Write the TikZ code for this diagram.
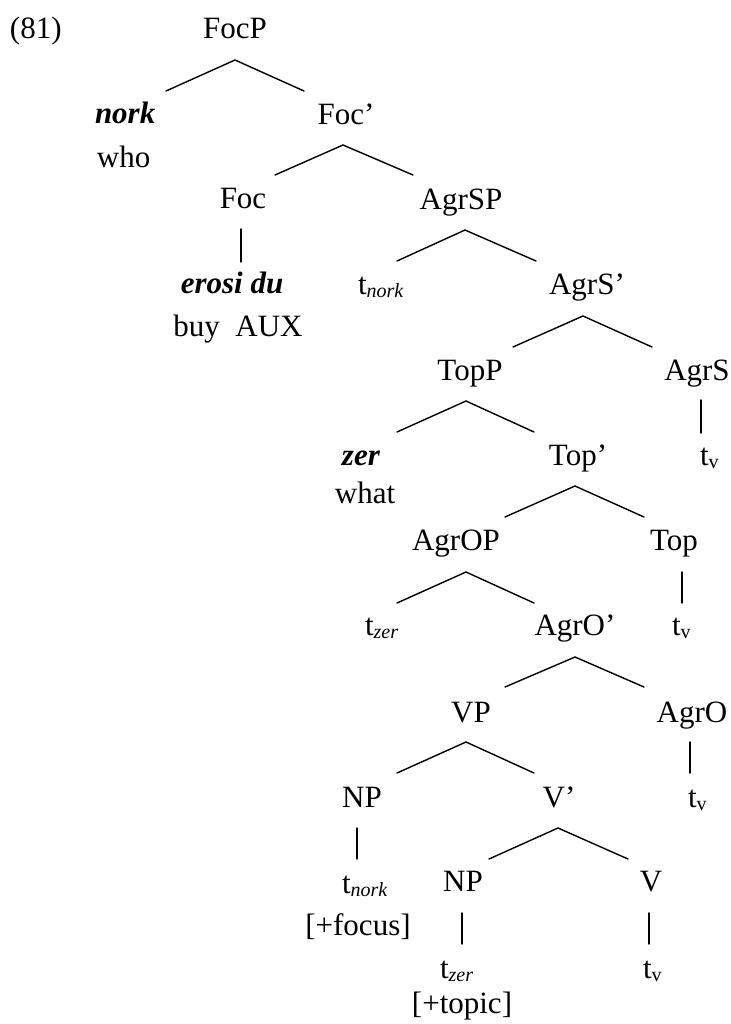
\documentclass[tikz,border=0pt]{standalone}
\usepackage{fontspec}
\setmainfont{Liberation Serif}
% trace with an italic (or upright) lowered subscript
\newcommand{\trit}[1]{t\raisebox{-1.6pt}{\fontsize{10}{12}\selectfont\itshape #1}}
\newcommand{\trup}[1]{t\raisebox{-1.6pt}{\fontsize{10}{12}\selectfont #1}}
\newcommand{\bi}[1]{\textbf{\textit{#1}}}
\begin{document}
\begin{tikzpicture}[x=0.5pt,y=-0.5pt,
  every node/.style={inner sep=0pt, outer sep=0pt, font=\fontsize{15.5}{18}\selectfont},
  lbl/.style={anchor=base},
  lblw/.style={anchor=base west},
  branch/.style={line width=0.7pt, line cap=round}]
\useasboundingbox (0,0) rectangle (731,1024);

% example number
\node[lblw] (num) at (10,38) {(81)};

% labels: (centre x, baseline y)
\node[lbl] (FocP) at (235,38) {FocP};
\node[lblw] (nork) at (95,123) {\bi{nork}};
\node[lblw] (who) at (97,167) {who};
\node[lbl] (Focbar) at (346,124) {Foc’};
\node[lbl] (Foc) at (243,208) {Foc};
\node[lbl] (erosi) at (232,293) {\bi{erosi du}};
\node[lbl] (buy) at (238,336) {buy\ \ AUX};
\node[lbl] (AgrSP) at (461,209) {AgrSP};
\node[lblw] (tnork1) at (358,294) {\trit{nork}};
\node[lbl] (AgrSbar) at (587,294) {AgrS’};
\node[lbl] (TopP) at (470,380) {TopP};
\node[lbl] (AgrS) at (697,380) {AgrS};
\node[lbl] (zer) at (361,465) {\bi{zer}};
\node[lbl] (what) at (365,503) {what};
\node[lbl] (Topbar) at (578,465) {Top’};
\node[lblw] (tv1) at (700,465) {\trup{v}};
\node[lbl] (AgrOP) at (456,550) {AgrOP};
\node[lbl] (Top) at (674,550) {Top};
\node[lblw] (tzer1) at (365,635) {\trit{zer}};
\node[lbl] (AgrObar) at (575,635) {AgrO’};
\node[lblw] (tv2) at (672,635) {\trup{v}};
\node[lbl] (VP) at (471,722) {VP};
\node[lbl] (AgrO) at (692,722) {AgrO};
\node[lbl] (NPa) at (362,807) {NP};
\node[lbl] (Vbar) at (559,807) {V’};
\node[lblw] (tv3) at (688,807) {\trup{v}};
\node[lblw] (tnork2) at (342,893) {\trit{nork}};
\node[lbl] (focus) at (358,935) {[+focus]};
\node[lbl] (NPb) at (463,891) {NP};
\node[lbl] (V) at (651,891) {V};
\node[lblw] (tzer2) at (440,978) {\trit{zer}};
\node[lblw] (tv4) at (643,978) {\trup{v}};
\node[lbl] (topic) at (462,1013) {[+topic]};

% branching points: apex under each mother, ends above each daughter
\coordinate (FocP-a) at (235,60);   \coordinate (nork-e) at (166,91);  \coordinate (Focbar-e) at (304,91);
\coordinate (Focbar-a) at (343,145); \coordinate (Foc-e) at (275,175);  \coordinate (AgrSP-e) at (413,175);
\coordinate (AgrSP-a) at (465,230); \coordinate (tnork1-e) at (397,261); \coordinate (AgrSbar-e) at (536,261);
\coordinate (AgrSbar-a) at (583,316); \coordinate (TopP-e) at (513,347); \coordinate (AgrS-e) at (652,347);
\coordinate (TopP-a) at (466,401);  \coordinate (zer-e) at (397,432);  \coordinate (Topbar-e) at (534,432);
\coordinate (Topbar-a) at (575,486); \coordinate (AgrOP-e) at (505,517); \coordinate (Top-e) at (644,517);
\coordinate (AgrOP-a) at (466,572); \coordinate (tzer1-e) at (397,603); \coordinate (AgrObar-e) at (534,603);
\coordinate (AgrObar-a) at (575,657); \coordinate (VP-e) at (505,687); \coordinate (AgrO-e) at (644,687);
\coordinate (VP-a) at (466,742);    \coordinate (NPa-e) at (397,773); \coordinate (Vbar-e) at (534,773);
\coordinate (Vbar-a) at (558,828);  \coordinate (NPb-e) at (489,859); \coordinate (V-e) at (628,859);

\foreach \m/\l/\r in {FocP/nork/Focbar, Focbar/Foc/AgrSP, AgrSP/tnork1/AgrSbar,
    AgrSbar/TopP/AgrS, TopP/zer/Topbar, Topbar/AgrOP/Top, AgrOP/tzer1/AgrObar,
    AgrObar/VP/AgrO, VP/NPa/Vbar, Vbar/NPb/V}
  \draw[branch] (\l-e) -- (\m-a) -- (\r-e);

% non-branching lines
\coordinate (Foc-d) at (241,229);  \coordinate (erosi-u) at (241,262);
\coordinate (AgrS-d) at (701,400); \coordinate (tv1-u) at (701,433);
\coordinate (Top-d) at (682,572);  \coordinate (tv2-u) at (682,603);
\coordinate (AgrO-d) at (690,742); \coordinate (tv3-u) at (690,773);
\coordinate (NPa-d) at (357,828);  \coordinate (tnork2-u) at (357,859);
\coordinate (NPb-d) at (462,913);  \coordinate (tzer2-u) at (462,944);
\coordinate (V-d) at (649,913);    \coordinate (tv4-u) at (649,944);
\foreach \a/\b in {Foc/erosi, AgrS/tv1, Top/tv2, AgrO/tv3, NPa/tnork2, NPb/tzer2, V/tv4}
  \draw[branch] (\a-d) -- (\b-u);
\end{tikzpicture}
\end{document}
